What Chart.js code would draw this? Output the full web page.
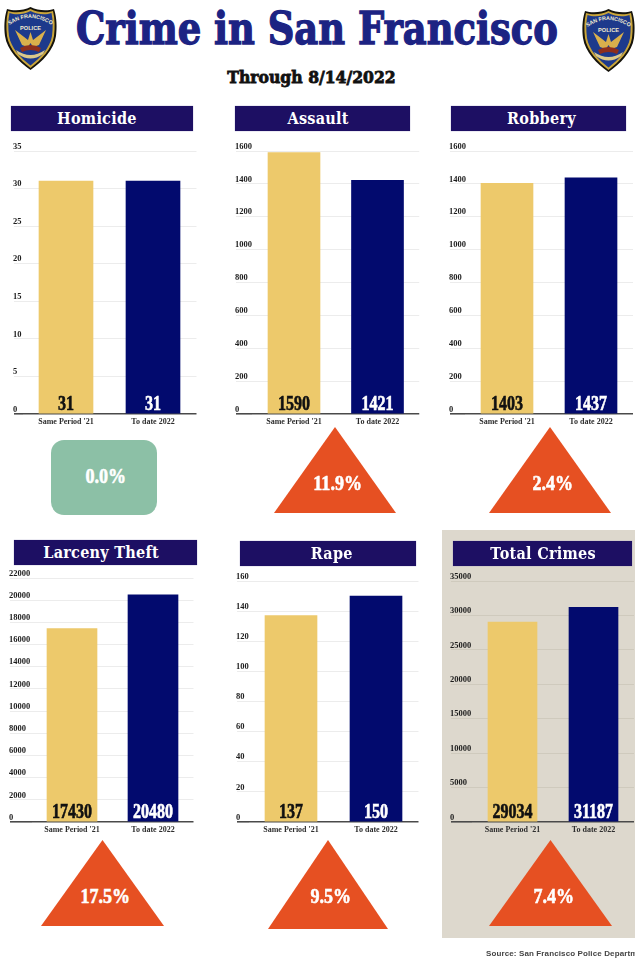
<!DOCTYPE html>
<html>
<head>
<meta charset="utf-8">
<title>Crime in San Francisco</title>
<script src="https://cdn.jsdelivr.net/npm/chart.js@4"></script>
<style>
  html, body { margin: 0; padding: 0; background: #fff; }
  body { position: relative; width: 635px; height: 958px; overflow: hidden; font-family: "Liberation Serif", serif; }
  .abs { position: absolute; }
  #title { left: 0; top: 0; width: 633px; text-align: center; font: bold 50px/58px "DejaVu Serif", serif; font-stretch: condensed; color: #1c2383; white-space: nowrap; -webkit-text-stroke: 1.4px #1c2383; }
  #title span, #subtitle span { display: inline-block; }
  #title span { transform: scale(0.82, 0.9); }
  #subtitle { left: 0; top: 65px; width: 624px; text-align: center; font: bold 17px/24px "DejaVu Serif", serif; color: #111; -webkit-text-stroke: 0.8px #111; }
  #subtitle span { transform: scaleX(0.92); }
  .head { background: #1d0f63; color: #fff; text-align: center; font: bold 17px/25px "DejaVu Serif", serif; height: 25px; letter-spacing: 0.3px; box-shadow: 0 0 1px #8f8bb5; }
  .head span { display: inline-block; transform: scaleX(0.85); }
  #totalBg { left: 442px; top: 530px; width: 193px; height: 408px; background: #ddd8cd; }
  .tri { background: #e65022; clip-path: polygon(50% 0, 100% 100%, 0 100%); }
  #flat { left: 51px; top: 440px; width: 106px; height: 75px; border-radius: 13px; background: #8cc0a6; }
  .pct { color: #fff; text-align: center; font: bold 22px/26px "Liberation Serif", serif; -webkit-text-stroke: 0.6px #fff; }
  .pct span { display: inline-block; transform: scaleX(0.82); }
  #source { left: 486px; top: 948px; font: bold 8px/12px "Liberation Sans", sans-serif; color: #444; letter-spacing: 0.12px; white-space: nowrap; }
  canvas { position: absolute; }
  svg { position: absolute; }
</style>
</head>
<body>
<div class="abs" id="totalBg"></div>
<div class="abs" id="title"><span>Crime in San Francisco</span></div>
<div class="abs" id="subtitle"><span>Through 8/14/2022</span></div>

<svg width="0" height="0">
  <defs>
    <symbol id="badge" viewBox="0 0 53 65">
      <path d="M26.5 1 C34 5 44 5 50 3 C53 12 53 22 52 30 C50 44 38 56 26.5 64 C15 56 3 44 1 30 C0 22 0 12 3 3 C9 5 19 5 26.5 1Z" fill="#15130c"/>
      <path d="M26.5 3 C34 7 43 7 49 5 C51 13 51 22 50 30 C48 43 37 54 26.5 62 C16 54 5 43 3 30 C2 22 2 13 4 5 C10 7 19 7 26.5 3Z" fill="#c9a53a"/>
      <path d="M26.5 5 C34 9 42 9 47.5 7 C49 14 49 22 48 30 C46 42 36 52 26.5 59.5 C17 52 7 42 5 30 C4 22 4 14 5.5 7 C11 9 19 9 26.5 5Z" fill="#1d3a8c"/>
      <path id="badgeArc" d="M4 20 Q26.5 4 49 20" fill="none"/>
      <text font-family="Liberation Sans" font-weight="bold" font-size="5.4" fill="#f3ecd0"><textPath href="#badgeArc" startOffset="50%" text-anchor="middle">SAN FRANCISCO</textPath></text>
      <text x="26.5" y="24" text-anchor="middle" font-family="Liberation Sans" font-weight="bold" font-size="5.6" fill="#f3ecd0">POLICE</text>
      <path d="M26.5 26 L29 34 L42 24 L35 39 L29 41 L26.5 37 L24 41 L18 39 L11 24 L24 34Z" fill="#d9b04c"/>
      <path d="M16 42 Q26.5 36 37 42 L35 46 Q26.5 42 18 46Z" fill="#8e2f1c"/>
      <path d="M12 44 Q26.5 54 41 44 L39 48 Q26.5 57 14 48Z" fill="#dcc98a"/>
    </symbol>
  </defs>
</svg>
<svg style="left:4px;top:6px" width="53" height="65"><use href="#badge"/></svg>
<svg style="left:582px;top:8px" width="53" height="65"><use href="#badge"/></svg>

<script>
const categories = ['Same Period \'21', 'To date 2022'];

const panelNames = ['Homicide', 'Assault', 'Robbery', 'Larceny Theft', 'Rape', 'Total Crimes'];
const homicide = [31, 31];
const assault = [1590, 1421];
const robbery = [1403, 1437];
const larceny = [17430, 20480];
const rape = [137, 150];
const totalCrimes = [29034, 31187];
const panelValues = [homicide, assault, robbery, larceny, rape, totalCrimes];

const axisMax = [35, 1600, 1600, 22000, 160, 35000];
const axisStep = [5, 200, 200, 2000, 20, 5000];
const changeLabels = ['0.0%', '11.9%', '2.4%', '17.5%', '9.5%', '7.4%'];

// left of gridlines, left of plot, right of plot, top gridline, axis line, bar width
const chartBoxes = [
    [14, 22.5, 196.5, 151, 413.5, 54],
    [236, 252.25, 419.25, 151, 413.5, 52],
    [450, 465, 633, 151, 413.5, 52],
    [10, 31.5, 193.5, 578, 822, 50],
    [237, 248.5, 418.5, 581, 822, 52],
    [451, 472, 634, 581, 822, 49]
];
// header bar: x, y, w, text shift
const headBoxes = [
    [11, 106, 182, -5], [235, 106, 175, -4], [451, 106, 175, 3],
    [14, 540, 183, -4], [240, 541, 176, 4], [453, 541, 179, 1]
];
// triangle: x, y, w, h (first panel uses the green box instead)
const triBoxes = [
    null, [274, 427, 122, 86], [489, 427, 122, 86],
    [41, 840, 123, 86], [268, 840, 120, 89], [489, 840, 123, 86]
];

const barColors = ['#edc96b', '#020a6e'];
const valueColors = ['#111', '#fff'];

// prints the number at the foot of each bar
const barValues = {
    id: 'barValues',
    afterDatasetsDraw(chart) {
        const ctx = chart.ctx;
        const meta = chart.getDatasetMeta(0);
        meta.data.forEach((bar, i) => {
            ctx.save();
            ctx.translate(bar.x, bar.base - 3.5);
            ctx.scale(0.8, 1);
            ctx.font = 'bold 20px "Liberation Serif"';
            ctx.textAlign = 'center';
            ctx.textBaseline = 'alphabetic';
            ctx.fillStyle = valueColors[i];
            ctx.strokeStyle = valueColors[i];
            ctx.lineWidth = 0.6;
            const text = String(chart.data.datasets[0].data[i]);
            ctx.fillText(text, 0, 0);
            ctx.strokeText(text, 0, 0);
            ctx.restore();
        });
    }
};

function addHead(i) {
    const [x, y, w, shift] = headBoxes[i];
    const el = document.createElement('div');
    el.className = 'abs head';
    el.style.cssText = `left:${x}px;top:${y}px;width:${w}px`;
    el.innerHTML = `<span style="position:relative;left:${shift}px">${panelNames[i]}</span>`;
    document.body.appendChild(el);
}

function addChange(i) {
    const box = triBoxes[i];
    const shape = document.createElement('div');
    const label = document.createElement('div');
    label.className = 'abs pct';
    label.innerHTML = `<span>${changeLabels[i]}</span>`;
    if (box) {
        const [x, y, w, h] = box;
        shape.className = 'abs tri';
        shape.style.cssText = `left:${x}px;top:${y}px;width:${w}px;height:${h}px`;
        label.style.cssText = `left:${x + 3}px;top:${y + 43}px;width:${w}px`;
    } else {
        shape.className = 'abs';
        shape.id = 'flat';
        label.style.cssText = 'left:53px;top:463px;width:106px';
    }
    document.body.appendChild(shape);
    document.body.appendChild(label);
}

function addChart(i) {
    const [gridLeft, plotLeft, plotRight, topLine, axisLine, barWidth] = chartBoxes[i];
    const padTop = 14;
    const xHeight = 17;
    const canvas = document.createElement('canvas');
    const left = gridLeft - 1;
    canvas.width = Math.ceil(plotRight - left) + 2;
    canvas.height = Math.ceil(axisLine - topLine + padTop + xHeight);
    canvas.style.left = left + 'px';
    canvas.style.top = (topLine - padTop) + 'px';
    canvas.style.width = canvas.width + 'px';
    canvas.style.height = canvas.height + 'px';
    document.body.appendChild(canvas);

    new Chart(canvas.getContext('2d'), {
        type: 'bar',
        data: {
            labels: categories,
            datasets: [{
                data: panelValues[i],
                backgroundColor: barColors,
                barThickness: barWidth
            }]
        },
        options: {
            responsive: false,
            animation: false,
            devicePixelRatio: 1,
            layout: { padding: { top: padTop, right: canvas.width - (plotRight - left), left: 0, bottom: 0 } },
            plugins: { legend: { display: false }, tooltip: { enabled: false } },
            scales: {
                x: {
                    afterFit: scale => { scale.height = xHeight; },
                    grid: { display: false, drawTicks: false },
                    border: { display: false },
                    ticks: {
                        color: '#2e2e2e',
                        font: { family: 'Liberation Serif', weight: 'bold', size: 8 },
                        padding: 3,
                        maxRotation: 0,
                        autoSkip: false
                    }
                },
                y: {
                    min: 0,
                    max: axisMax[i],
                    afterFit: scale => { scale.width = plotLeft - left; },
                    border: { display: false },
                    grid: {
                        tickLength: plotLeft - gridLeft,
                        color: ctx => ctx.tick.value === 0 ? '#4a4a4a' : (i === 5 ? '#cfcabd' : '#ececec'),
                        lineWidth: ctx => ctx.tick.value === 0 ? 1.6 : 1
                    },
                    ticks: {
                        stepSize: axisStep[i],
                        color: '#1c1c1c',
                        // mirrored so long labels are not clipped to the narrow axis box
                        mirror: true,
                        padding: left - plotLeft,
                        labelOffset: -4.5,
                        font: { family: 'Liberation Serif', weight: 'bold', size: 8.5 },
                        callback: v => String(v)
                    }
                }
            }
        },
        plugins: [barValues]
    });
}

panelNames.forEach((name, i) => {
    addHead(i);
    addChart(i);
    addChange(i);
});
</script>
<div class="abs" id="source">Source: San Francisco Police Department</div>
</body>
</html>
